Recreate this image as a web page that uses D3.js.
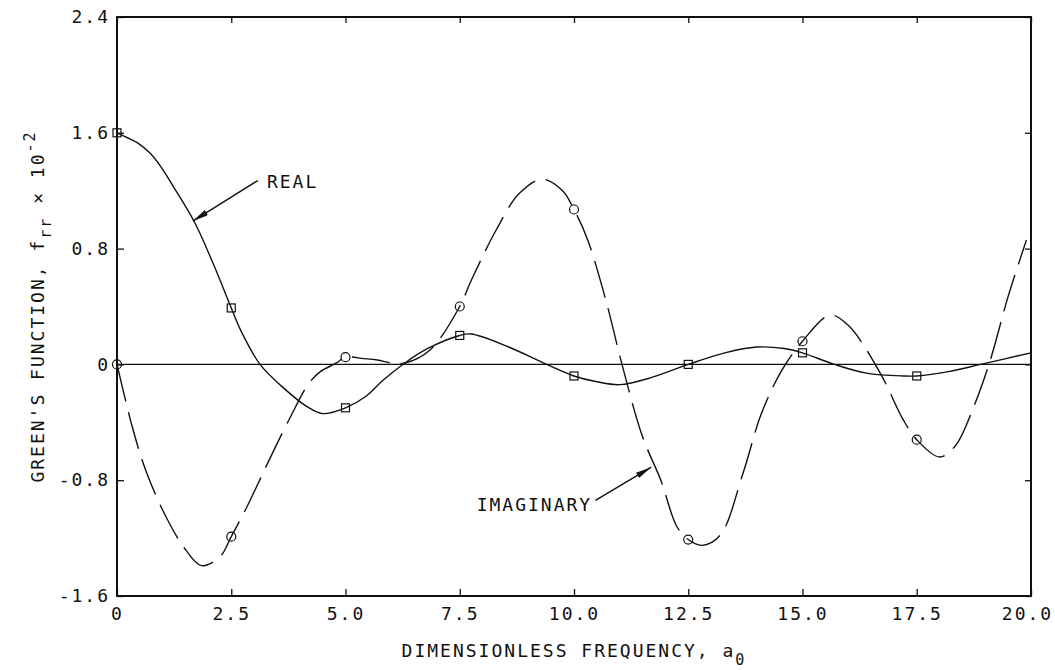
<!DOCTYPE html>
<html>
<head>
<meta charset="utf-8">
<script src="https://cdn.jsdelivr.net/npm/d3@7"></script>
<style>
  body { margin: 0; background: #fff; }
  text { font-family: "DejaVu Sans Mono", monospace; fill: #111; }
</style>
</head>
<body>
<svg id="chart"></svg>
<script>
// real part
const realA = [0, 0.2, 0.45, 0.72, 0.95, 1.23, 1.7, 2.1, 2.5, 2.7, 3.13, 3.6, 4.15, 4.5, 5.0, 5.45, 5.82, 6.3, 6.8, 7.5, 7.75, 8.5, 9.4, 10.0, 10.5, 11.0, 11.7, 12.5, 13.3, 14.0, 14.6, 15.0, 15.7, 16.4, 17.2, 17.5, 18.2, 18.9, 20.0];
const realV = [1.6, 1.57, 1.53, 1.46, 1.37, 1.23, 0.98, 0.70, 0.39, 0.24, 0, -0.15, -0.29, -0.34, -0.30, -0.22, -0.11, 0.01, 0.11, 0.20, 0.21, 0.13, 0, -0.08, -0.12, -0.14, -0.09, 0, 0.08, 0.12, 0.11, 0.08, 0, -0.06, -0.08, -0.08, -0.05, 0, 0.08];
// imaginary part
const imagA = [0, 0.35, 0.65, 1.1, 1.5, 1.85, 2.25, 2.5, 2.85, 3.3, 3.8, 4.2, 4.45, 4.8, 5.0, 5.4, 5.7, 6.0, 6.3, 6.85, 7.5, 7.75, 8.3, 8.8, 9.3, 9.75, 10.0, 10.3, 10.7, 11.05, 11.5, 11.9, 12.25, 12.5, 12.8, 13.2, 13.7, 14.1, 14.55, 15.0, 15.6, 16.0, 16.7, 17.2, 17.5, 18.0, 18.35, 18.75, 19.1, 19.5, 19.9];
const imagV = [0, -0.45, -0.75, -1.07, -1.28, -1.39, -1.33, -1.19, -0.98, -0.68, -0.36, -0.13, -0.05, 0.01, 0.05, 0.04, 0.03, 0.01, 0.01, 0.10, 0.40, 0.58, 0.93, 1.18, 1.28, 1.20, 1.07, 0.86, 0.44, 0, -0.5, -0.8, -1.12, -1.21, -1.25, -1.18, -0.75, -0.34, -0.04, 0.16, 0.34, 0.27, -0.06, -0.38, -0.52, -0.64, -0.56, -0.29, 0.02, 0.47, 0.86];
// plotted symbols
const markA = [0, 2.5, 5.0, 7.5, 10.0, 12.5, 15.0, 17.5];
const realMarks = [1.6, 0.39, -0.30, 0.20, -0.08, 0, 0.08, -0.08];
const imagMarks = [0, -1.19, 0.05, 0.40, 1.07, -1.21, 0.16, -0.52];

const xTicks = [0, 2.5, 5, 7.5, 10, 12.5, 15, 17.5, 20];
const xTickLabels = ["0", "2.5", "5.0", "7.5", "10.0", "12.5", "15.0", "17.5", "20.0"];
const yTicks = [-1.6, -0.8, 0, 0.8, 1.6, 2.4];
const yTickLabels = ["-1.6", "-0.8", "0", "0.8", "1.6", "2.4"];

const width = 1055, height = 670;
const margin = {top: 17, right: 24, bottom: 74, left: 117};

const svg = d3.select("#chart")
  .attr("width", width)
  .attr("height", height);

const x = d3.scaleLinear().domain([0, 20]).range([margin.left, width - margin.right]);
const y = d3.scaleLinear().domain([-1.6, 2.4]).range([height - margin.bottom, margin.top]);

const fontSize = 18;

// arrow head
svg.append("defs").append("marker")
  .attr("id", "arrow")
  .attr("viewBox", "0 0 16 6")
  .attr("refX", 16).attr("refY", 3)
  .attr("markerWidth", 16).attr("markerHeight", 6)
  .attr("markerUnits", "userSpaceOnUse")
  .attr("orient", "auto")
  .append("path")
  .attr("d", "M0,0 L16,3 L0,6 Z")
  .attr("fill", "#111");

// axes with inward ticks
const styleAxis = g => {
  g.select(".domain").remove();
  g.selectAll(".tick line").attr("stroke", "#111").attr("stroke-width", 1.3);
  g.selectAll(".tick text")
    .attr("font-size", fontSize)
    .attr("letter-spacing", 2)
    .attr("fill", "#111")
    .attr("font-family", "DejaVu Sans Mono");
};

svg.append("g")
  .attr("transform", `translate(0,${y(-1.6)})`)
  .call(d3.axisBottom(x).tickValues(xTicks).tickSize(-7).tickPadding(11)
    .tickFormat((d, i) => xTickLabels[i]))
  .call(styleAxis)
  .call(g => g.selectAll(".tick:last-of-type text").attr("dx", -4));

svg.append("g")
  .attr("transform", `translate(${x(0)},0)`)
  .call(d3.axisLeft(y).tickValues(yTicks).tickSize(-7).tickPadding(7)
    .tickFormat((d, i) => yTickLabels[i]))
  .call(styleAxis);

svg.append("g")
  .attr("transform", `translate(0,${y(2.4)})`)
  .call(d3.axisTop(x).tickValues(xTicks).tickSize(-6).tickFormat(""))
  .call(styleAxis);

svg.append("g")
  .attr("transform", `translate(${x(20)},0)`)
  .call(d3.axisRight(y).tickValues(yTicks).tickSize(-6).tickFormat(""))
  .call(styleAxis);

// frame
svg.append("rect")
  .attr("x", x(0)).attr("y", y(2.4))
  .attr("width", x(20) - x(0)).attr("height", y(-1.6) - y(2.4))
  .attr("fill", "none")
  .attr("stroke", "#111")
  .attr("stroke-width", 2);

// zero line
svg.append("line")
  .attr("x1", x(0)).attr("x2", x(20))
  .attr("y1", y(0)).attr("y2", y(0))
  .attr("stroke", "#111")
  .attr("stroke-width", 1.3);

const line = d3.line()
  .x(d => x(d[0]))
  .y(d => y(d[1]))
  .curve(d3.curveCatmullRom.alpha(0.5));

svg.append("path")
  .attr("d", line(d3.zip(realA, realV)))
  .attr("fill", "none")
  .attr("stroke", "#111")
  .attr("stroke-width", 1.4);

svg.append("path")
  .attr("d", line(d3.zip(imagA, imagV)))
  .attr("fill", "none")
  .attr("stroke", "#111")
  .attr("stroke-width", 1.4)
  .attr("stroke-dasharray", "38,11");

// square symbols on real curve
svg.append("g").selectAll("rect")
  .data(d3.zip(markA, realMarks))
  .join("rect")
    .attr("x", d => x(d[0]) - 4)
    .attr("y", d => y(d[1]) - 4)
    .attr("width", 8).attr("height", 8)
    .attr("fill", "none")
    .attr("stroke", "#111")
    .attr("stroke-width", 1.2);

// circle symbols on imaginary curve
svg.append("g").selectAll("circle")
  .data(d3.zip(markA, imagMarks))
  .join("circle")
    .attr("cx", d => x(d[0]))
    .attr("cy", d => y(d[1]))
    .attr("r", 4.5)
    .attr("fill", "none")
    .attr("stroke", "#111")
    .attr("stroke-width", 1.2);

// callouts
const notes = [
  {text: "REAL", tx: 3.28, ty: 1.22, from: [3.08, 1.27], to: [1.66, 0.99]},
  {text: "IMAGINARY", tx: 7.87, ty: -1.01, from: [10.47, -0.94], to: [11.69, -0.71]}
];
notes.forEach(n => {
  svg.append("text")
    .attr("x", x(n.tx)).attr("y", y(n.ty))
    .attr("font-size", fontSize)
    .attr("letter-spacing", 2)
    .text(n.text);
  svg.append("line")
    .attr("x1", x(n.from[0])).attr("y1", y(n.from[1]))
    .attr("x2", x(n.to[0])).attr("y2", y(n.to[1]))
    .attr("stroke", "#111")
    .attr("stroke-width", 1.4)
    .attr("marker-end", "url(#arrow)");
});

// x title
const xt = svg.append("text")
  .attr("x", (x(0) + x(20)) / 2)
  .attr("y", 657)
  .attr("text-anchor", "middle")
  .attr("font-size", fontSize)
  .attr("letter-spacing", 2);
xt.append("tspan").text("DIMENSIONLESS FREQUENCY, a");
xt.append("tspan").attr("dy", 8).attr("font-size", 15).text("0");

// y title
const yt = svg.append("text")
  .attr("transform", `translate(44,${(y(2.4) + y(-1.6)) / 2}) rotate(-90)`)
  .attr("text-anchor", "middle")
  .attr("font-size", fontSize)
  .attr("letter-spacing", 2);
yt.append("tspan").text("GREEN'S FUNCTION, f");
yt.append("tspan").attr("dy", 7).attr("font-size", 15).text("rr");
yt.append("tspan").attr("dy", -7).text(" \u00d7 10");
yt.append("tspan").attr("dy", -9).attr("font-size", 15).text("-2");
</script>
</body>
</html>
